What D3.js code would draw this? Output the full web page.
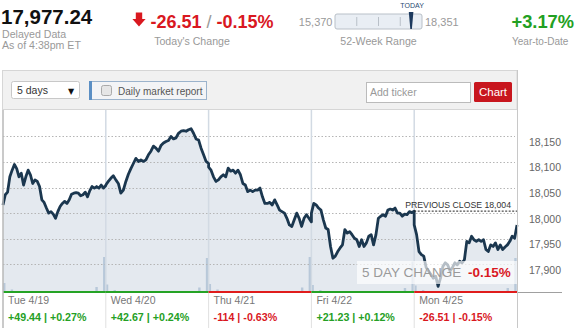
<!DOCTYPE html>
<html>
<head>
<meta charset="utf-8">
<script src="https://cdn.jsdelivr.net/npm/d3@7/dist/d3.min.js"></script>
<style>
  body { margin: 0; background: #fff; }
  svg { display: block; font-family: "Liberation Sans", Arial, sans-serif; }
</style>
</head>
<body>
<svg id="chart" width="575" height="328"></svg>
<script>
// ---------- DATA ----------
const lastPrice = "17,977.24";
const todayChange = "-26.51";
const todayPct = "-0.15%";
const weekLow = 15370, weekHigh = 18351, currentValue = 17977.24;
const ytd = "+3.17%";

const dayLabels = ["Tue 4/19", "Wed 4/20", "Thu 4/21", "Fri 4/22", "Mon 4/25"];
const dayChanges = ["+49.44 | +0.27%", "+42.67 | +0.24%", "-114 | -0.63%", "+21.23 | +0.12%", "-26.51 | -0.15%"];
const dayUp = [true, true, false, true, false];

const yTicks = [17900, 17950, 18000, 18050, 18100, 18150];
const prevClose = 18004;
const fiveDayChange = "-0.15%";

const priceTue = [18016, 18036, 18041, 18071, 18084, 18095, 18087, 18071, 18078, 18055, 18071, 18084, 18075, 18058, 18065, 18062, 18052, 18026, 18021, 18010, 18000, 18003, 17998, 17990, 18003, 18013, 18019, 18023, 18019, 18026, 18037, 18039, 18040, 18039, 18034, 18036, 18041, 18032, 18044, 18052, 18049, 18052, 18049, 18055, 18049, 18054];
const priceWed = [18055, 18062, 18068, 18073, 18065, 18058, 18039, 18045, 18062, 18076, 18087, 18097, 18107, 18101, 18104, 18101, 18104, 18114, 18121, 18131, 18127, 18121, 18132, 18137, 18140, 18142, 18150, 18145, 18147, 18156, 18160, 18161, 18160, 18163, 18165, 18156, 18145, 18143, 18127, 18114, 18101, 18097];
const priceThu = [18090, 18084, 18071, 18062, 18065, 18071, 18075, 18071, 18088, 18082, 18084, 18078, 18084, 18075, 18058, 18055, 18042, 18045, 18042, 18045, 18045, 18049, 18032, 18019, 18019, 18021, 18016, 18026, 18016, 18006, 18003, 18000, 17990, 17977, 17974, 17987, 18000, 17990, 17974, 17990, 17997, 17990, 17983];
const priceFri = [18000, 18019, 18016, 18010, 18006, 17987, 17971, 17968, 17935, 17912, 17916, 17925, 17932, 17938, 17968, 17961, 17964, 17958, 17951, 17948, 17935, 17948, 17935, 17942, 17955, 17958, 17938, 17958, 17990, 17994, 17997, 17994, 18006, 18008, 18006, 18010, 18000, 18000, 17994, 17998, 17997, 18003, 18001, 18004];
const priceMon = [17977, 17958, 17925, 17919, 17916, 17894, 17887, 17880, 17873, 17877, 17857, 17873, 17896, 17903, 17899, 17887, 17894, 17903, 17899, 17906, 17903, 17909, 17945, 17942, 17955, 17948, 17945, 17948, 17945, 17948, 17929, 17925, 17938, 17935, 17942, 17929, 17938, 17929, 17934, 17938, 17945, 17955, 17951, 17977];

// volume, millions of shares, 14 buckets per day
const volTue = [18, 5, 2, 1, 1, 0.5, 0.5, 0.5, 0.5, 0.5, 1, 1, 10, 70];
const volWed = [15, 4, 2, 1, 1, 0.5, 1.5, 0.5, 0.5, 0.5, 1, 1, 9, 68];
const volThu = [16, 5, 2, 1, 1, 1, 0.5, 0.5, 0.5, 0.5, 1, 1, 9, 70];
const volFri = [14, 4, 2, 1, 0.5, 0.5, 0.5, 0.5, 0.5, 0.5, 1, 1, 8, 61];
const volMon = [13, 4, 2, 1, 0.5, 0.5, 0.5, 0.5, 0.5, 0.5, 1, 1, 8, 68];

// ---------- DRAW ----------
const svg = d3.select("#chart");
const GREEN = "#22a022", RED = "#d9181f", GREY = "#999";

const priceDays = [priceTue, priceWed, priceThu, priceFri, priceMon];
const volDays = [volTue, volWed, volThu, volFri, volMon];

const pts = [];
priceDays.forEach((arr, i) => arr.forEach((v, j) => pts.push({ t: i + j / (arr.length - 1), v })));
const vols = [];
volDays.forEach((arr, i) => {
  const s = d3.scaleLinear().domain([0, arr.length - 1]).range([i + 0.012, i + 0.985]);
  arr.forEach((v, k) => vols.push({ t: s(k), v }));
});

const plotL = 3, plotR = 517, plotT = 110, plotB = 292;
const x = d3.scaleLinear().domain([0, 5]).range([plotL, plotR]);
const y = d3.scaleLinear().domain([17846, 18201.5]).range([plotB, plotT]);
const yv = d3.scaleLinear().domain([0, 80]).range([plotB, plotB - 40]);

// ---- header ----
const hdr = svg.append("g");
hdr.append("text").attr("x", 1).attr("y", 23.5).attr("font-size", 20.5).attr("font-weight", "bold").attr("fill", "#111").text(lastPrice);
hdr.append("text").attr("x", 2).attr("y", 37.5).attr("font-size", 10.6).attr("fill", GREY).text("Delayed Data");
hdr.append("text").attr("x", 2).attr("y", 49).attr("font-size", 10.6).attr("fill", GREY).text("As of 4:38pm ET");

hdr.append("path").attr("d", "M135.8,12.5 H142.2 V19 H145.6 L139,26.5 L132.4,19 H135.8 Z").attr("fill", RED);
const ch = hdr.append("text").attr("x", 150.5).attr("y", 28).attr("font-size", 18).attr("font-weight", "bold");
ch.append("tspan").attr("fill", RED).text(todayChange);
ch.append("tspan").attr("fill", GREY).attr("font-weight", "normal").text(" / ");
ch.append("tspan").attr("fill", RED).text(todayPct);
hdr.append("text").attr("x", 192).attr("y", 44.5).attr("text-anchor", "middle").attr("font-size", 10.6).attr("fill", GREY).text("Today's Change");

const rx = d3.scaleLinear().domain([weekLow, weekHigh]).range([335, 422]);
hdr.append("text").attr("x", 332.5).attr("y", 26).attr("text-anchor", "end").attr("font-size", 11).attr("fill", GREY).text(d3.format(",")(weekLow));
hdr.append("text").attr("x", 425).attr("y", 26).attr("font-size", 11).attr("fill", GREY).text(d3.format(",")(weekHigh));
hdr.append("rect").attr("x", 335).attr("y", 14).attr("width", 87).attr("height", 15).attr("rx", 2).attr("fill", "#e9eef4").attr("stroke", "#b9c0c8");
[0.25, 0.5, 0.75].forEach(f => {
  const v = weekLow + f * (weekHigh - weekLow);
  hdr.append("line").attr("x1", rx(v)).attr("x2", rx(v)).attr("y1", 17).attr("y2", 26).attr("stroke", "#b9c0c8");
});
const mx = rx(currentValue);
hdr.append("path").attr("d", `M${mx - 2.3},12 L${mx + 2.3},12 L${mx + 0.8},29 L${mx - 0.8},29 Z`).attr("fill", "#1d3a5e");
hdr.append("text").attr("x", mx + 1).attr("y", 8).attr("text-anchor", "middle").attr("font-size", 7).attr("fill", "#2b4b72").text("TODAY");
hdr.append("text").attr("x", 378.5).attr("y", 44.5).attr("text-anchor", "middle").attr("font-size", 10.6).attr("fill", GREY).text("52-Week Range");

hdr.append("text").attr("x", 511.5).attr("y", 28).attr("font-size", 18.3).attr("font-weight", "bold").attr("fill", GREEN).text(ytd);
hdr.append("text").attr("x", 512).attr("y", 44.5).attr("font-size", 10).attr("fill", GREY).text("Year-to-Date");

// ---- control bar ----
const bar = svg.append("g");
bar.append("rect").attr("x", 2.5).attr("y", 70.5).attr("width", 514.5).attr("height", 39).attr("fill", "#f1f1f1").attr("stroke", "#d6d6d6");
bar.append("rect").attr("x", 11.5).attr("y", 81.5).attr("width", 68).attr("height", 17).attr("rx", 2).attr("fill", "#fff").attr("stroke", "#c8c8c8");
bar.append("text").attr("x", 17).attr("y", 94).attr("font-size", 10.5).attr("fill", "#333").text("5 days");
bar.append("text").attr("x", 68).attr("y", 93.5).attr("font-size", 8).attr("fill", "#111").attr("font-family", "DejaVu Sans").text("▼");
bar.append("rect").attr("x", 89.5).attr("y", 81.5).attr("width", 117).attr("height", 18).attr("fill", "#f3f4f6").attr("stroke", "#9bb3cc");
bar.append("rect").attr("x", 89).attr("y", 81).attr("width", 3).attr("height", 19).attr("fill", "#5b8fc4");
bar.append("rect").attr("x", 101.5).attr("y", 85.5).attr("width", 10).attr("height", 10).attr("rx", 2).attr("fill", "#e6e6e6").attr("stroke", "#aaa");
bar.append("text").attr("x", 118).attr("y", 94.5).attr("font-size", 10).attr("fill", "#555").text("Daily market report");
bar.append("rect").attr("x", 366.5).attr("y", 82.5).attr("width", 104).attr("height", 20).attr("fill", "#fff").attr("stroke", "#bbb");
bar.append("text").attr("x", 370).attr("y", 96).attr("font-size", 10.5).attr("fill", "#999").text("Add ticker");
bar.append("rect").attr("x", 474).attr("y", 82).attr("width", 38).attr("height", 20).attr("rx", 1.5).attr("fill", "#c8161e");
bar.append("text").attr("x", 493).attr("y", 96).attr("text-anchor", "middle").attr("font-size", 11.5).attr("fill", "#fff").text("Chart");

// ---- plot ----
const plot = svg.append("g");
plot.append("rect").attr("x", plotL).attr("y", plotT).attr("width", plotR - plotL).attr("height", plotB - plotT).attr("fill", "#fff");

plot.append("path").datum(pts)
  .attr("d", d3.area().x(d => x(d.t)).y0(plotB).y1(d => y(d.v)))
  .attr("fill", "#e4e9ef");

plot.selectAll("rect.vol").data(vols).join("rect").attr("class", "vol")
  .attr("x", d => x(d.t) - 1.2).attr("width", 2.4)
  .attr("y", d => yv(d.v)).attr("height", d => plotB - yv(d.v))
  .attr("fill", "#b8c8d9");

plot.selectAll("line.grid").data(yTicks).join("line").attr("class", "grid")
  .attr("x1", plotL).attr("x2", plotR - 2)
  .attr("y1", d => Math.round(y(d)) + 0.5).attr("y2", d => Math.round(y(d)) + 0.5)
  .attr("stroke", "#b5b5b5").attr("stroke-dasharray", "1.5,2");

plot.selectAll("line.sep").data([1, 2, 3, 4]).join("line").attr("class", "sep")
  .attr("x1", d => x(d)).attr("x2", d => x(d))
  .attr("y1", plotT).attr("y2", plotB)
  .attr("stroke", "#d2dae3").attr("stroke-width", 1.5);

plot.append("path").datum(pts)
  .attr("d", d3.line().x(d => x(d.t)).y(d => y(d.v)))
  .attr("fill", "none").attr("stroke", "#1b374f").attr("stroke-width", 2.8).attr("stroke-linejoin", "round");

plot.append("line").attr("x1", x(4)).attr("x2", plotR).attr("y1", y(prevClose)).attr("y2", y(prevClose))
  .attr("stroke", "#222").attr("stroke-dasharray", "2,1.5");
plot.append("text").attr("x", 511).attr("y", y(prevClose) - 3).attr("text-anchor", "end")
  .attr("font-size", 8.7).attr("fill", "#333").text("PREVIOUS CLOSE " + d3.format(",")(prevClose));

plot.append("rect").attr("x", 357).attr("y", 261).attr("width", plotR - 357).attr("height", 23)
  .attr("fill", "#fff").attr("fill-opacity", 0.68);
const fd = plot.append("text").attr("x", 362).attr("y", 277).attr("font-size", 13.5);
fd.append("tspan").attr("fill", "#9a9a9a").text("5 DAY CHANGE ");
fd.append("tspan").attr("fill", RED).attr("font-weight", "bold").attr("dx", 3).text(fiveDayChange);

plot.selectAll("line.base").data(dayUp).join("line").attr("class", "base")
  .attr("x1", (d, i) => x(i)).attr("x2", (d, i) => x(i + 1))
  .attr("y1", plotB).attr("y2", plotB)
  .attr("stroke", d => d ? "#25a325" : "#e01c1c").attr("stroke-width", 2.2);
plot.append("line").attr("x1", plotR).attr("x2", 562).attr("y1", plotB + 0.5).attr("y2", plotB + 0.5).attr("stroke", "#a0a0a0");

svg.selectAll("text.ytick").data(yTicks).join("text").attr("class", "ytick")
  .attr("x", 561).attr("y", d => y(d) + 9.5).attr("text-anchor", "end")
  .attr("font-size", 10.5).attr("fill", "#666").text(d => d3.format(",")(d));

svg.append("line").attr("x1", 3).attr("x2", 3).attr("y1", 110).attr("y2", 328).attr("stroke", "#b8b8b8").attr("stroke-width", 1.5);
svg.append("line").attr("x1", plotR + 0.5).attr("x2", plotR + 0.5).attr("y1", 70).attr("y2", 328).attr("stroke", "#c8c8c8");
svg.selectAll("line.sep2").data([1, 2, 3, 4]).join("line").attr("class", "sep2")
  .attr("x1", d => x(d)).attr("x2", d => x(d)).attr("y1", plotB + 1).attr("y2", 328)
  .attr("stroke", "#e0e0e0");

svg.selectAll("text.day").data(dayLabels).join("text").attr("class", "day")
  .attr("x", (d, i) => x(i) + 5).attr("y", 304).attr("font-size", 10.5).attr("fill", "#777").text(d => d);
svg.selectAll("text.dchg").data(dayChanges).join("text").attr("class", "dchg")
  .attr("x", (d, i) => x(i) + 5).attr("y", 321).attr("font-size", 10.7).attr("font-weight", "bold")
  .attr("fill", (d, i) => dayUp[i] ? "#25a025" : "#d9181f").text(d => d);
</script>
</body>
</html>
